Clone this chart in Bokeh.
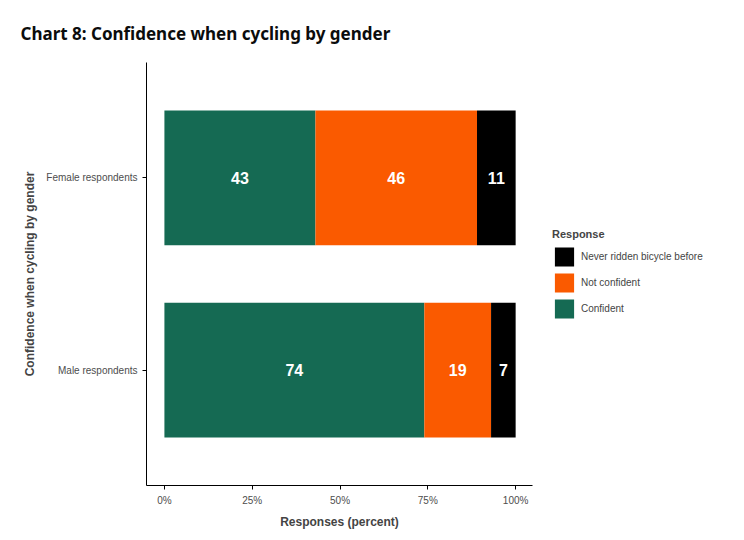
from bokeh.plotting import figure
from bokeh.models import ColumnDataSource, Legend, LegendItem, FixedTicker, Range1d
from bokeh.embed import file_html
from bokeh.resources import INLINE
from bokeh.core.properties import value

groups = ["Male respondents", "Female respondents"]
confident = [74, 43]
not_confident = [19, 46]
never = [7, 11]
responses = ["Confident", "Not confident", "Never ridden bicycle before"]
colors = ["#156A53", "#FA5A00", "#000000"]
x_ticks = [0, 25, 50, 75, 100]
x_labels = ["0%", "25%", "50%", "75%", "100%"]

ypos = [1, 2]
p = figure(frame_width=386, frame_height=423, output_backend="svg", toolbar_location=None,
           x_range=Range1d(-5.1, 104.8), y_range=Range1d(0.4, 2.6),
           min_border_left=146, min_border_top=62, min_border_bottom=30, min_border_right=10)
p.title.text = "Chart 8: Confidence when cycling by gender"
p.title.text_font = "Noto Sans"
p.title.text_font_size = "17px"
p.title.text_font_style = "bold"
p.title.text_color = "#0b0c0c"
p.title.offset = -126
p.title.standoff = 36

series = [confident, not_confident, never]
left = [0, 0]
renderers = []
for vals, col in zip(series, colors):
    right = [l + v for l, v in zip(left, vals)]
    src = ColumnDataSource(dict(y=ypos, left=left, right=right,
                                mid=[(l + r) / 2 for l, r in zip(left, right)],
                                lab=[str(v) for v in vals]))
    r = p.hbar(y="y", left="left", right="right", height=0.7, color=col, line_color=None, source=src)
    p.text(x="mid", y="y", text="lab", source=src, text_color="white", text_align="center",
           text_baseline="middle", text_font=value("Liberation Sans"), text_font_style="bold",
           text_font_size="16px")
    renderers.append(r)
    left = right

items = [LegendItem(label=responses[i], renderers=[renderers[i]]) for i in [2, 1, 0]]
leg = Legend(items=items, title="Response", title_text_font_style="bold",
             title_text_font_size="11px", label_text_font_size="10px",
             glyph_width=24, glyph_height=24, label_height=24, spacing=2,
             border_line_color=None, margin=20, padding=6,
             label_text_font="Liberation Sans", title_text_font="Liberation Sans",
             location="center_left")
p.add_layout(leg, "right")

p.xaxis.ticker = FixedTicker(ticks=x_ticks)
p.xaxis.major_label_overrides = {t: l for t, l in zip(x_ticks, x_labels)}
p.yaxis.ticker = FixedTicker(ticks=ypos)
p.yaxis.major_label_overrides = {1: groups[0], 2: groups[1]}
p.xaxis.axis_label = "Responses (percent)"
p.yaxis.axis_label = "Confidence when cycling by gender"
for ax in (p.xaxis, p.yaxis):
    ax.axis_label_text_font = "Liberation Sans"
    ax.axis_label_text_font_style = "bold"
    ax.axis_label_text_font_size = "12px"
    ax.major_label_text_font = "Liberation Sans"
    ax.major_label_text_font_size = "10px"
    ax.major_label_text_color = "#4d4d4d"
    ax.axis_line_color = "black"
    ax.major_tick_line_color = "black"
    ax.minor_tick_line_color = None
    ax.major_tick_out = 4
    ax.major_tick_in = 0
    ax.axis_label_standoff = 6
p.xgrid.grid_line_color = None
p.ygrid.grid_line_color = None
p.outline_line_color = None

open("out.html", "w").write(file_html(p, INLINE))
